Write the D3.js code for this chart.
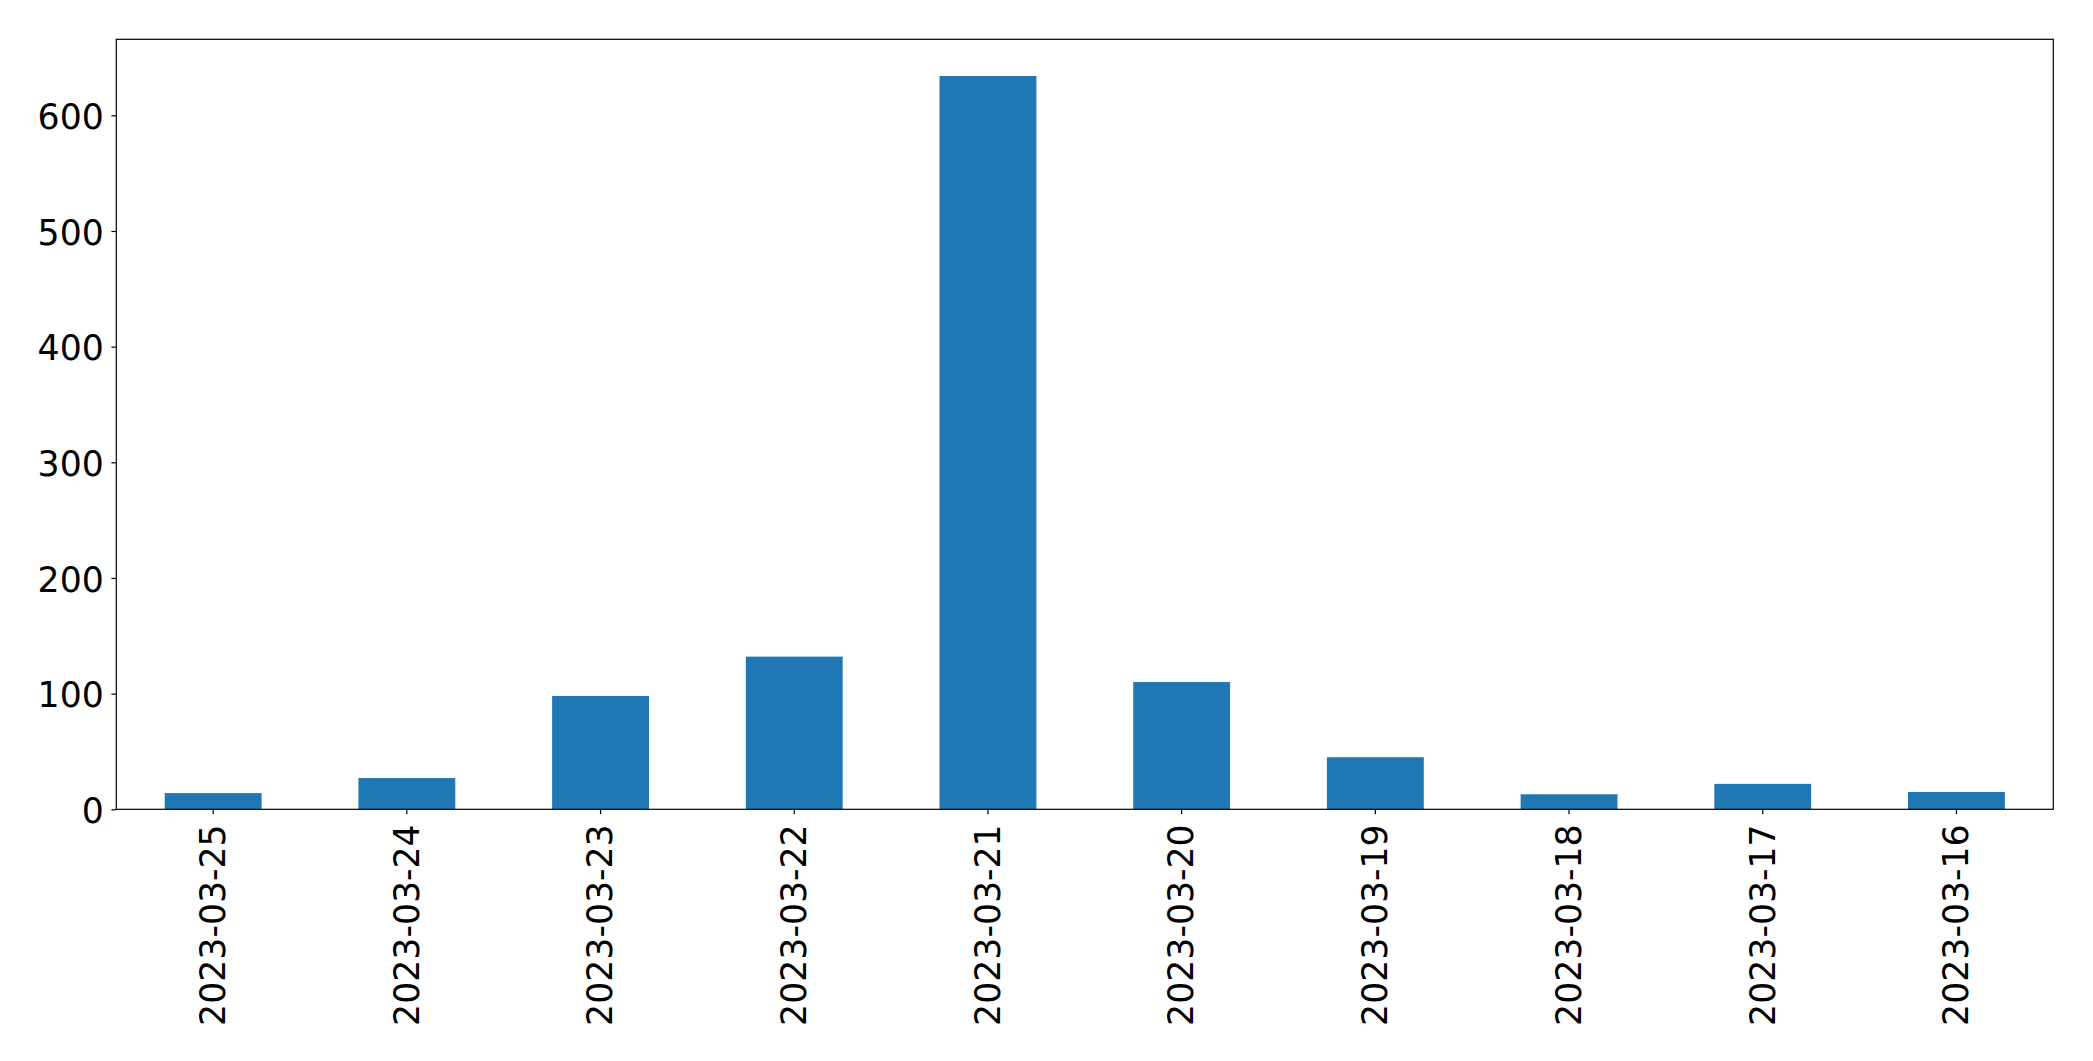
<!DOCTYPE html>
<html>
<head>
<meta charset="utf-8">
<script src="https://cdn.jsdelivr.net/npm/d3@7"></script>
<style>
  html, body { margin: 0; padding: 0; background: #fff; }
  svg { display: block; }
  text { font-family: "DejaVu Sans", sans-serif; fill: #000; }
</style>
</head>
<body>
<svg id="chart" width="2093" height="1061"></svg>
<script>
const categories = ["2023-03-25", "2023-03-24", "2023-03-23", "2023-03-22", "2023-03-21",
                    "2023-03-20", "2023-03-19", "2023-03-18", "2023-03-17", "2023-03-16"];
const values = [14, 27, 98, 132, 634, 110, 45, 13, 22, 15];
const yTicks = [0, 100, 200, 300, 400, 500, 600];

const W = 2093, H = 1061;
const margin = { left: 116.3, right: W - 2053.3, top: 39.3, bottom: H - 809.3 };
const fontSize = 34.7;
const tickLen = 4.9;

const svg = d3.select("#chart");
const x = d3.scaleBand().domain(categories)
  .range([margin.left, W - margin.right]).paddingInner(0.5).paddingOuter(0.25);
const y = d3.scaleLinear().domain([0, d3.max(values) * 1.05])
  .range([H - margin.bottom, margin.top]);

// bars
svg.append("g").selectAll("rect").data(values).join("rect")
  .attr("x", (d, i) => x(categories[i]))
  .attr("width", x.bandwidth())
  .attr("y", d => y(d))
  .attr("height", d => y(0) - y(d))
  .attr("fill", "#1f77b4");

// y axis
const yAxis = svg.append("g")
  .attr("transform", `translate(${margin.left},0)`)
  .call(d3.axisLeft(y).tickValues(yTicks).tickSize(tickLen).tickPadding(7.6).tickFormat(d3.format("d")));
yAxis.select(".domain").remove();
yAxis.selectAll(".tick line").attr("stroke", "#000").attr("stroke-width", 1.2);
yAxis.selectAll(".tick text").attr("font-size", fontSize).attr("font-family", "DejaVu Sans").attr("dy", "0.38em");

// x axis
const xAxis = svg.append("g")
  .attr("transform", `translate(0,${H - margin.bottom})`)
  .call(d3.axisBottom(x).tickSize(tickLen).tickPadding(5));
xAxis.select(".domain").remove();
xAxis.selectAll(".tick line").attr("stroke", "#000").attr("stroke-width", 1.2);
xAxis.selectAll(".tick text")
  .attr("font-size", fontSize).attr("font-family", "DejaVu Sans")
  .attr("transform", `translate(0,15) rotate(-90)`)
  .attr("x", 0).attr("y", 0).attr("dy", "0.34em")
  .attr("text-anchor", "end");

// frame
svg.append("rect")
  .attr("x", margin.left).attr("y", margin.top)
  .attr("width", W - margin.left - margin.right)
  .attr("height", H - margin.top - margin.bottom)
  .attr("fill", "none").attr("stroke", "#000").attr("stroke-width", 1.2);
</script>
</body>
</html>
